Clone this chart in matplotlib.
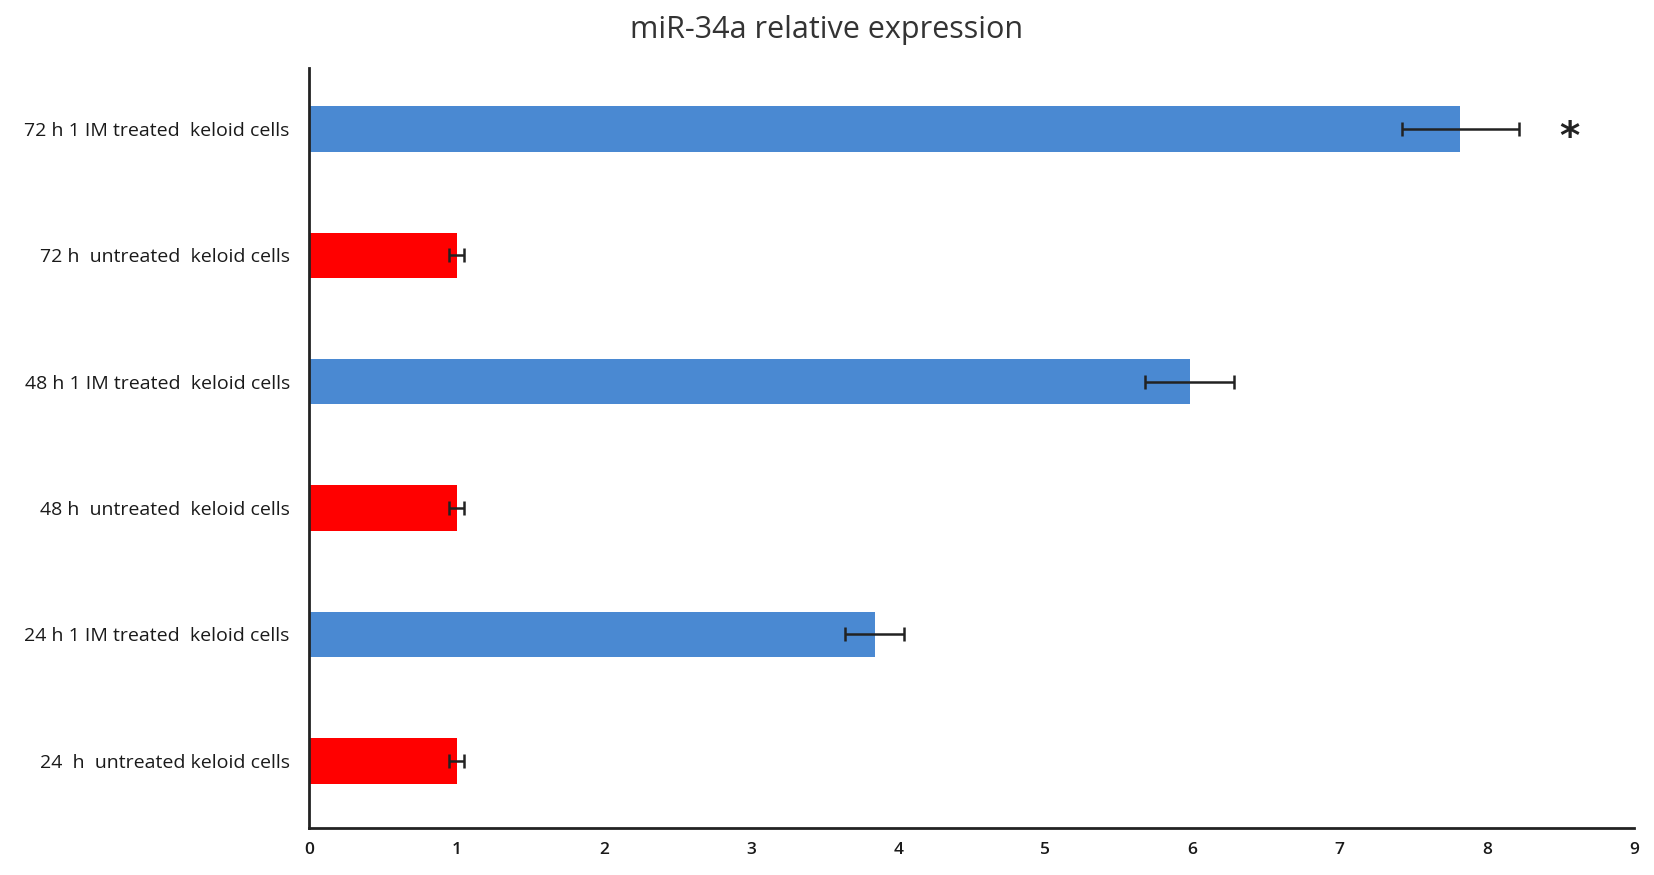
import matplotlib
matplotlib.use("Agg")
import matplotlib.pyplot as plt
import numpy as np

plt.rcParams['font.family'] = ['Open Sans', 'DejaVu Sans']

# bottom to top, as drawn
labels = ["24  h  untreated keloid cells",
          "24 h 1 IM treated  keloid cells",
          "48 h  untreated  keloid cells",
          "48 h 1 IM treated  keloid cells",
          "72 h  untreated  keloid cells",
          "72 h 1 IM treated  keloid cells"]
values = [1.0, 3.84, 1.0, 5.98, 1.0, 7.82]
errors = [0.05, 0.2, 0.05, 0.3, 0.05, 0.4]
colors = ["#ff0000", "#4a89d2", "#ff0000", "#4a89d2", "#ff0000", "#4a89d2"]
xticks = [0, 1, 2, 3, 4, 5, 6, 7, 8, 9]

fig = plt.figure(figsize=(16.54, 8.75), dpi=100)
ax = fig.add_axes([0.187, 0.054, 0.801, 0.868])

y = np.arange(len(labels))
ax.barh(y, values, height=0.36, color=colors, zorder=2)
ax.errorbar(values, y, xerr=errors, fmt='none', ecolor='#222222',
            elinewidth=1.8, capsize=5, capthick=1.8, zorder=3)

# significance mark on the top bar
ax.text(8.56, 4.93, "*", fontsize=28, fontweight='bold', ha='center', va='center',
        color='#222222', family='DejaVu Sans')

ax.set_xlim(0, 9)
ax.set_ylim(-0.53, 5.48)
ax.set_xticks(xticks)
ax.set_yticks(y)
ax.set_yticklabels(labels, fontsize=14, color='#1a1a1a')
ax.tick_params(axis='x', length=0, labelsize=12.5, labelcolor='#1a1a1a', pad=10)
for t in ax.get_xticklabels():
    t.set_fontweight('semibold')
ax.tick_params(axis='y', length=0, pad=14)

for s in ['top', 'right']:
    ax.spines[s].set_visible(False)
for s in ['left', 'bottom']:
    ax.spines[s].set_linewidth(2)
    ax.spines[s].set_color('#222222')

fig.text(0.5, 0.966, "miR-34a relative expression", ha='center', va='center',
         fontsize=22, color='#333333')

fig.savefig("out.png", dpi=100)
